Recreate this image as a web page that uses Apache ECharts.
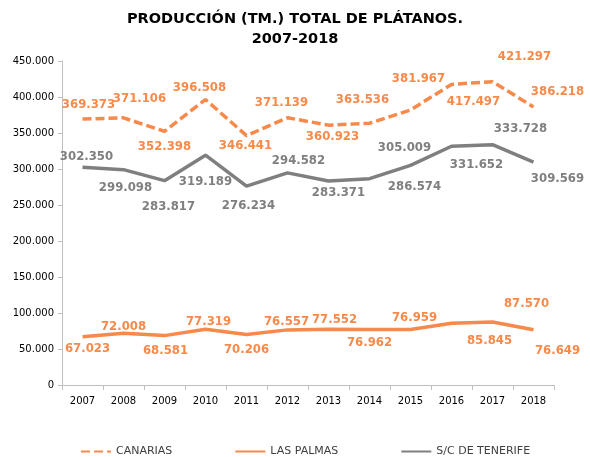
<!DOCTYPE html>
<html>
<head>
<meta charset="utf-8">
<script src="https://cdn.jsdelivr.net/npm/echarts@6/dist/echarts.min.js"></script>
<style>
  html, body { margin: 0; padding: 0; background: #fff; }
  #chart { width: 590px; height: 457px; }
</style>
</head>
<body>
<div id="chart"></div>
<script>
const years = ["2007", "2008", "2009", "2010", "2011", "2012", "2013", "2014", "2015", "2016", "2017", "2018"];
const canarias = [369373, 371106, 352398, 396508, 346441, 371139, 360923, 363536, 381967, 417497, 421297, 386218];
const lasPalmas = [67023, 72008, 68581, 77319, 70206, 76557, 77552, 76962, 76959, 85845, 87570, 76649];
const tenerife = [302350, 299098, 283817, 319189, 276234, 294582, 283371, 286574, 305009, 331652, 333728, 309569];

// label placement relative to each point, as in the original
const canariasOffsets = [[6, -14], [16, -19], [0, 15], [-6, -12], [-1, 10], [-6, -15], [4, 11], [-7, -24], [8, -31], [22, 17], [32, -25], [24, -15]];
const lasPalmasOffsets = [[5, 12], [0, -7], [1, 15], [3, -8], [0, 15], [-1, -8], [6, -10], [0, 13], [4, -12], [38, 17], [34, -18], [24, 21]];
const tenerifeOffsets = [[4, -11], [2, 18], [4, 26], [0, 26], [2, 20], [11, -12], [10, 12], [45, 8], [-6, -18], [25, 18], [28, -16], [24, 17]];

const ORANGE = "#F7894A";
const GREY = "#7F7F7F";
const FONT = "DejaVu Sans";

const fmt = (v) => {
  if (v === 0) return "0";
  const s = Math.round(v).toString();
  return s.replace(/\B(?=(\d{3})+(?!\d))/g, ".");
};

const withLabels = (values, offsets) =>
  values.map((v, i) => ({ value: v, label: { offset: offsets[i] } }));

const makeSeries = (name, values, offsets, color, lineType) => ({
  name,
  type: "line",
  data: withLabels(values, offsets),
  symbol: "circle",
  symbolSize: 0,
  showSymbol: true,
  lineStyle: { color, width: 3.5, type: lineType, cap: "butt" },
  itemStyle: { color },
  label: {
    show: true,
    position: "inside",
    color,
    fontFamily: "DejaVu Sans Condensed",
    fontWeight: "bold",
    fontSize: 13,
    formatter: (p) => fmt(p.value),
  },
  emphasis: { disabled: true },
});

const chart = echarts.init(document.getElementById("chart"));
chart.setOption({
  backgroundColor: "#fff",
  animation: false,
  title: {
    text: "PRODUCCIÓN (TM.) TOTAL DE PLÁTANOS.\n2007-2018",
    left: "center",
    top: 4,
    textStyle: {
      fontFamily: FONT,
      fontSize: 14.5,
      fontWeight: "bold",
      color: "#000",
      lineHeight: 20,
    },
  },
  grid: { left: 62, right: 36, top: 61, bottom: 72 },
  legend: {
    left: 75,
    top: 441,
    itemWidth: 30,
    itemHeight: 12,
    itemGap: 62,
    itemStyle: { opacity: 0 },
    textStyle: { fontFamily: FONT, fontSize: 11, color: "#404040" },
    data: ["CANARIAS", "LAS PALMAS", "S/C DE TENERIFE"],
  },
  xAxis: {
    type: "category",
    data: years,
    boundaryGap: true,
    axisLine: { lineStyle: { color: "#BFBFBF", width: 1 } },
    axisTick: { show: true, length: 5, lineStyle: { color: "#BFBFBF" } },
    axisLabel: { fontFamily: FONT, fontSize: 10, color: "#000", margin: 11 },
    splitLine: { show: false },
  },
  yAxis: {
    type: "value",
    min: 0,
    max: 450000,
    interval: 50000,
    axisLine: { show: true, lineStyle: { color: "#BFBFBF", width: 1 } },
    axisTick: { show: true, length: 4, lineStyle: { color: "#BFBFBF" } },
    axisLabel: { fontFamily: FONT, fontSize: 10, color: "#000", margin: 8, formatter: fmt },
    splitLine: { show: false },
  },
  series: [
    makeSeries("CANARIAS", canarias, canariasOffsets, ORANGE, [9, 4]),
    makeSeries("LAS PALMAS", lasPalmas, lasPalmasOffsets, ORANGE, "solid"),
    makeSeries("S/C DE TENERIFE", tenerife, tenerifeOffsets, GREY, "solid"),
  ],
});
</script>
</body>
</html>
